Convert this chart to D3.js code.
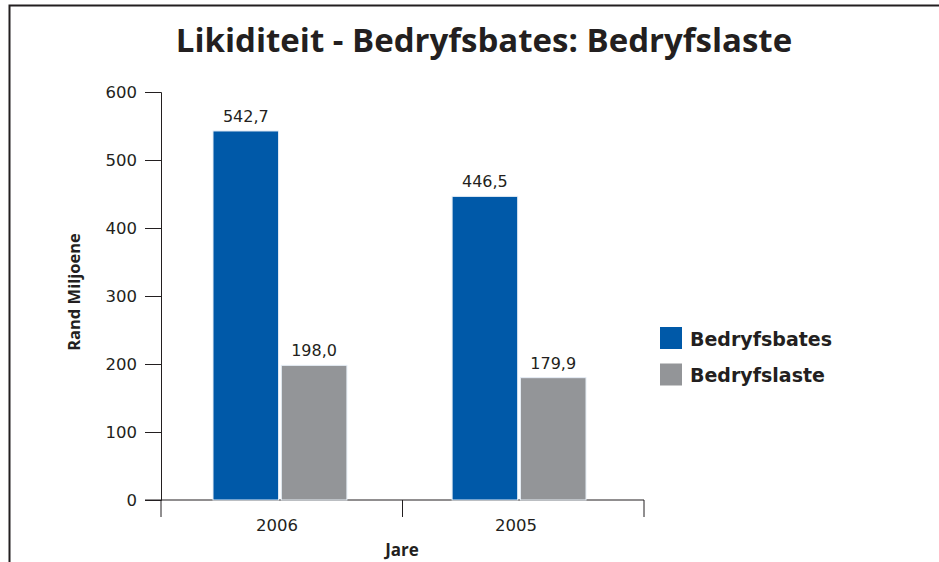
<!DOCTYPE html>
<html>
<head>
<meta charset="utf-8">
<script src="https://cdn.jsdelivr.net/npm/d3@7"></script>
<style>
  body { margin: 0; background: #fff; }
  text { font-family: "Open Sans", "Noto Sans", sans-serif; fill: #231f20; }
</style>
</head>
<body>
<div id="chart"></div>
<script>
// Data
var years = ["2006", "2005"],
    seriesNames = ["Bedryfsbates", "Bedryfslaste"],
    bedryfsbates = [542.7, 446.5],
    bedryfslaste = [198.0, 179.9],
    yTicks = [0, 100, 200, 300, 400, 500, 600],
    colors = ["#0059a8", "#939598"];

var W = 939, H = 562,
    margin = {top: 92, left: 161, bottom: 62, right: 295},
    width = W - margin.left - margin.right,
    height = H - margin.top - margin.bottom,
    numFont = "'DejaVu Sans', sans-serif";

var svg = d3.select("#chart").append("svg")
    .attr("width", W)
    .attr("height", H);

// frame
svg.append("path")
  .attr("d", "M9.5," + H + "V5.5H" + W)
  .attr("fill", "none")
  .attr("stroke", "#231f20")
  .attr("stroke-width", 2);

// Title
svg.append("text")
  .attr("x", 484)
  .attr("y", 52)
  .attr("text-anchor", "middle")
  .style("font-size", "33px")
  .style("font-weight", "bold")
  .text("Likiditeit - Bedryfsbates: Bedryfslaste");

var g = svg.append("g")
  .attr("transform", "translate(" + margin.left + "," + margin.top + ")");

// separators follow the full-width bands, bar groups sit a little left of centre
var xAxisBand = d3.scaleBand().domain(years).range([0, width]),
    x0 = d3.scaleBand().domain(years).range([52, 425]).paddingInner(0.44),
    x1 = d3.scaleBand().domain(seriesNames).range([0, x0.bandwidth()]).paddingInner(0.04),
    y = d3.scaleLinear().domain([0, 600]).range([height, 0]);

var rows = years.map(function(yr, i) {
  return {year: yr, values: [bedryfsbates[i], bedryfslaste[i]]};
});

// Y axis
var yAxis = g.append("g")
  .call(d3.axisLeft(y).tickValues(yTicks).tickSize(16).tickPadding(8));
yAxis.select(".domain").attr("stroke", "#231f20");
yAxis.selectAll("line").attr("stroke", "#231f20");
yAxis.selectAll("text")
  .style("font-size", "16.5px")
  .style("font-family", numFont)
  .attr("fill", "#333");

// X axis baseline and separators
g.append("line")
  .attr("x1", -16).attr("x2", width)
  .attr("y1", height).attr("y2", height)
  .attr("stroke", "#231f20");
g.selectAll(".sep")
  .data([0].concat(years.map(function(d) { return xAxisBand(d) + xAxisBand.bandwidth(); })))
  .enter().append("line")
  .attr("x1", function(d) { return d; })
  .attr("x2", function(d) { return d; })
  .attr("y1", height).attr("y2", height + 17)
  .attr("stroke", "#231f20");

g.selectAll(".xlabel")
  .data(years)
  .enter().append("text")
  .attr("x", function(d) { return x0(d) + x0.bandwidth() / 2 - 3; })
  .attr("y", height + 31)
  .attr("text-anchor", "middle")
  .style("font-size", "16.5px")
  .style("font-family", numFont)
  .attr("fill", "#333")
  .text(function(d) { return d; });

// Bars
var groups = g.selectAll(".year")
  .data(rows)
  .enter().append("g")
  .attr("transform", function(d) { return "translate(" + x0(d.year) + ",0)"; });

groups.selectAll("rect")
  .data(function(d) { return d.values.map(function(v, i) { return {name: seriesNames[i], value: v, i: i}; }); })
  .enter().append("rect")
  .attr("x", function(d) { return x1(d.name); })
  .attr("y", function(d) { return y(d.value); })
  .attr("width", x1.bandwidth())
  .attr("height", function(d) { return height - y(d.value); })
  .attr("fill", function(d) { return colors[d.i]; })
  .attr("stroke", "#e6eef6")
  .attr("stroke-width", 1);

groups.selectAll(".val")
  .data(function(d) { return d.values.map(function(v, i) { return {name: seriesNames[i], value: v}; }); })
  .enter().append("text")
  .attr("x", function(d) { return x1(d.name) + x1.bandwidth() / 2; })
  .attr("y", function(d) { return y(d.value) - 9; })
  .attr("text-anchor", "middle")
  .style("font-size", "16px")
  .style("font-family", numFont)
  .attr("fill", "#333")
  .text(function(d) { return d.value.toFixed(1).replace(".", ","); });

// Axis titles
svg.append("text")
  .attr("transform", "translate(80,292) rotate(-90)")
  .attr("text-anchor", "middle")
  .style("font-size", "16.5px")
  .style("font-weight", "bold")
  .text("Rand Miljoene");

svg.append("text")
  .attr("x", 402)
  .attr("y", 556)
  .attr("text-anchor", "middle")
  .style("font-size", "17px")
  .style("font-weight", "bold")
  .text("Jare");

// Legend
var legend = svg.append("g").attr("transform", "translate(660,327)");
var items = legend.selectAll("g")
  .data(seriesNames)
  .enter().append("g")
  .attr("transform", function(d, i) { return "translate(0," + (i * 36.5) + ")"; });
items.append("rect")
  .attr("width", 22).attr("height", 22)
  .attr("fill", function(d, i) { return colors[i]; });
items.append("text")
  .attr("x", 30)
  .attr("y", 18.7)
  .style("font-size", "19px")
  .style("font-weight", "bold")
  .style("font-family", "'DejaVu Sans', sans-serif")
  .text(function(d) { return d; });
</script>
</body>
</html>
